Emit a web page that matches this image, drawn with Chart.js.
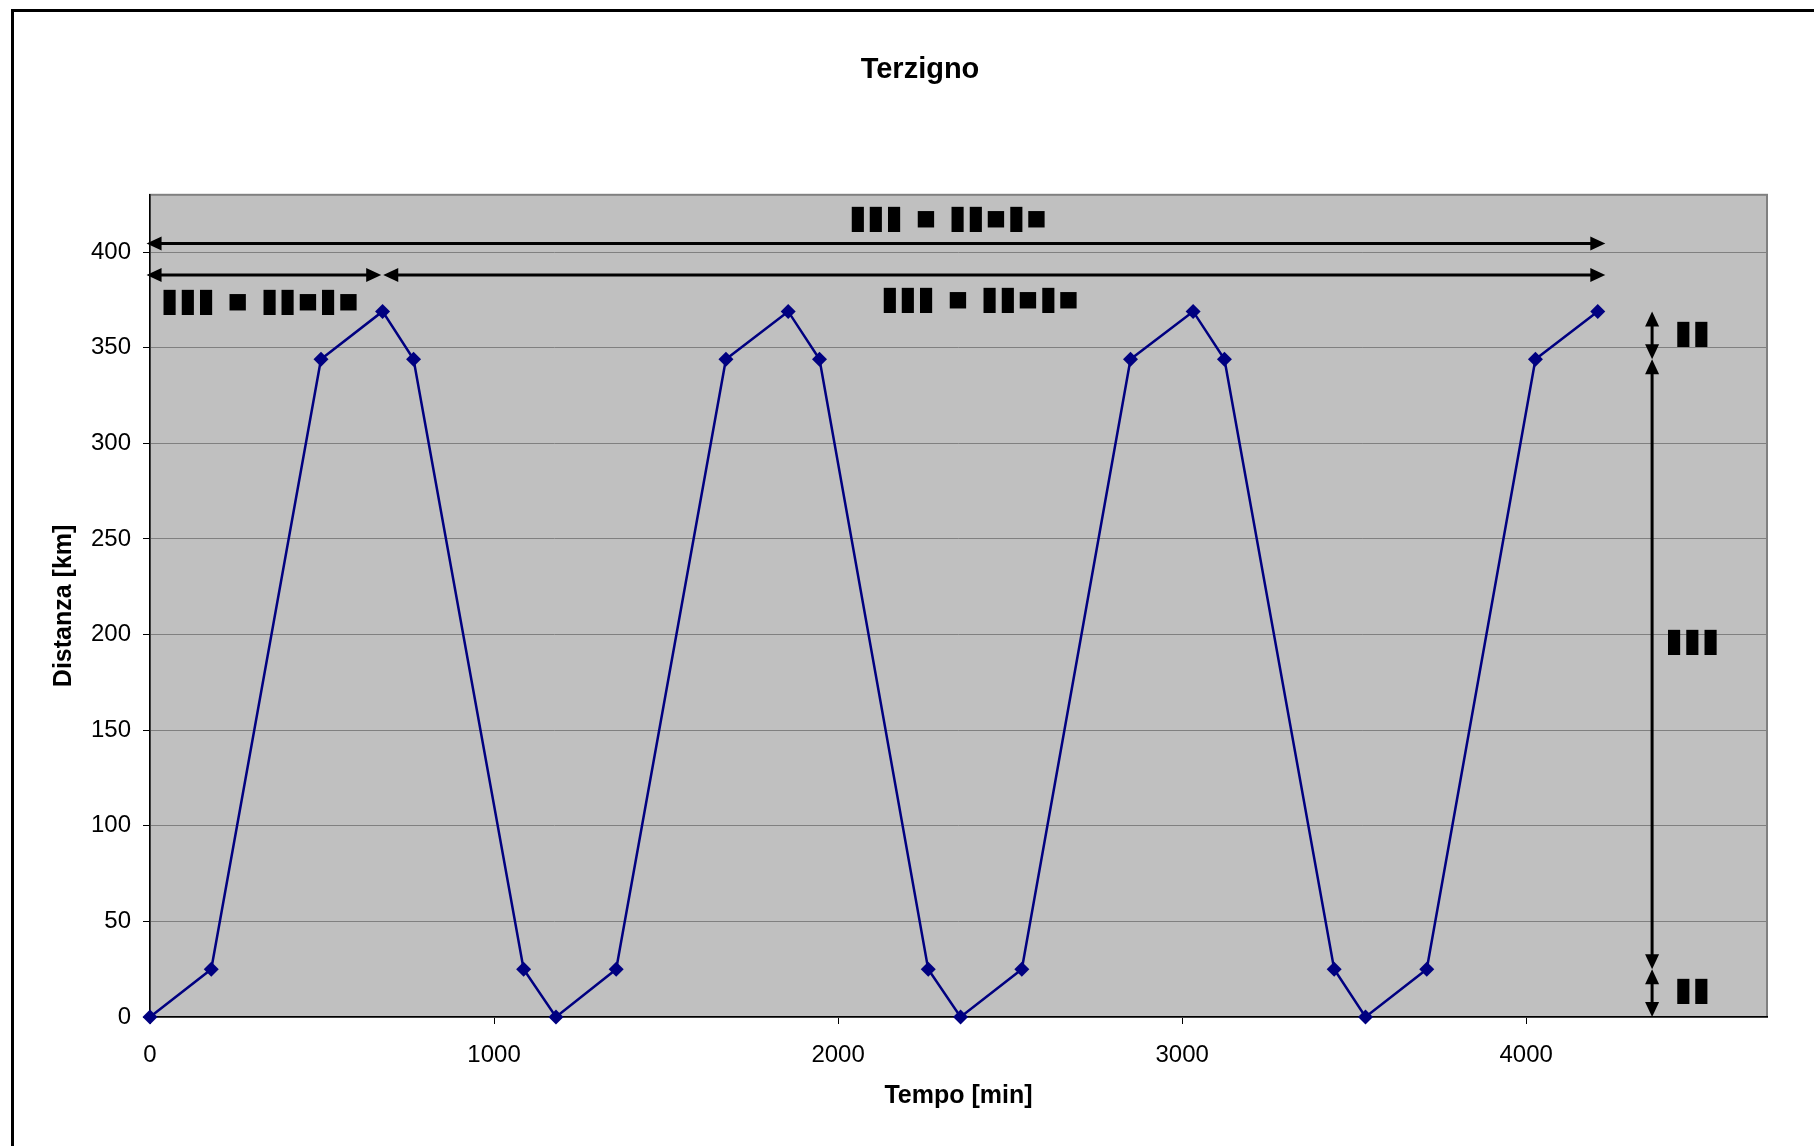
<!DOCTYPE html>
<html>
<head>
<meta charset="utf-8">
<script src="https://cdn.jsdelivr.net/npm/chart.js@4.4.1/dist/chart.umd.min.js"></script>
<style>
  html, body { margin: 0; padding: 0; background: #fff; overflow: hidden; }
  #wrap { position: absolute; left: 0; top: 0; width: 1814px; height: 1146px; }
  #frame { position: absolute; left: 11px; top: 9px; width: 2000px; height: 2000px;
           border-left: 3px solid #000; border-top: 3px solid #000; pointer-events: none; }
</style>
</head>
<body>
<div id="wrap"><canvas id="chart" width="1814" height="1146"></canvas></div>
<div id="frame"></div>
<script>
// series
const timeMin = [0, 178, 497, 676, 766, 1086, 1180, 1355, 1674, 1855, 1946, 2262, 2356,
                 2534, 2850, 3032, 3123, 3442, 3533, 3711, 4027, 4208];
const distKm  = [0, 25, 344, 369, 344, 25, 0, 25, 344, 369, 344, 25, 0,
                 25, 344, 369, 344, 25, 0, 25, 344, 369];

const xTicks = [0, 1000, 2000, 3000, 4000];
const yTicks = [0, 50, 100, 150, 200, 250, 300, 350, 400];

// dimension arrows (data coords)
const hArrowY  = [404.5, 388, 388];
const hArrowX0 = [-10, -10, 678];
const hArrowX1 = [4230, 672, 4230];
const vArrowX  = 4366;
const vArrowY0 = [369, 344, 25];
const vArrowY1 = [344, 25, 0];

// labels of the arrows (font was missing in the original, shown as blocks)
const noteText = ['▮▮▮ ▪ ▮▮▪▮▪', '▮▮▮ ▪ ▮▮▪▮▪', '▮▮▮ ▪ ▮▮▪▮▪', '▮▮', '▮▮▮', '▮▮'];
const noteX    = [2320, 320, 2413, 4483, 4483, 4483];
const noteY    = [417, 373.5, 374.7, 357, 196, 13.4];

const plotBackground = {
  id: 'plotBackground',
  beforeDraw(chart) {
    const {ctx, chartArea: a} = chart;
    ctx.save();
    ctx.fillStyle = '#c0c0c0';
    ctx.fillRect(a.left, a.top, a.right - a.left, a.bottom - a.top);
    ctx.strokeStyle = '#808080';
    ctx.lineWidth = 2;
    ctx.strokeRect(a.left, a.top, a.right - a.left, a.bottom - a.top);
    ctx.restore();
  }
};

function arrowHead(ctx, x, y, dx, dy) {
  const len = 15, half = 7;
  ctx.beginPath();
  ctx.moveTo(x, y);
  ctx.lineTo(x - dx * len - dy * half, y - dy * len + dx * half);
  ctx.lineTo(x - dx * len + dy * half, y - dy * len - dx * half);
  ctx.closePath();
  ctx.fill();
}

const dimArrows = {
  id: 'dimArrows',
  afterDatasetsDraw(chart) {
    const {ctx, scales: {x, y}} = chart;
    ctx.save();
    ctx.strokeStyle = '#000';
    ctx.fillStyle = '#000';
    ctx.lineWidth = 3;

    hArrowY.forEach((v, i) => {
      const py = y.getPixelForValue(v);
      const a = x.getPixelForValue(hArrowX0[i]);
      const b = x.getPixelForValue(hArrowX1[i]);
      ctx.beginPath();
      ctx.moveTo(a + 8, py);
      ctx.lineTo(b - 8, py);
      ctx.stroke();
      arrowHead(ctx, a, py, -1, 0);
      arrowHead(ctx, b, py, 1, 0);
    });

    const px = x.getPixelForValue(vArrowX);
    vArrowY0.forEach((v, i) => {
      const a = y.getPixelForValue(v);
      const b = y.getPixelForValue(vArrowY1[i]);
      ctx.beginPath();
      ctx.moveTo(px, a + 8);
      ctx.lineTo(px, b - 8);
      ctx.stroke();
      arrowHead(ctx, px, a, 0, -1);
      arrowHead(ctx, px, b, 0, 1);
    });

    ctx.font = 'bold 33px "DejaVu Sans"';
    ctx.textAlign = 'center';
    ctx.textBaseline = 'middle';
    noteText.forEach((t, i) => {
      ctx.fillText(t, x.getPixelForValue(noteX[i]), y.getPixelForValue(noteY[i]));
    });
    ctx.restore();
  }
};

const tickFont = {family: 'Liberation Sans', size: 24};
const titleFont = {family: 'Liberation Sans', size: 25, weight: 'bold'};

new Chart(document.getElementById('chart'), {
  type: 'scatter',
  data: {
    datasets: [{
      data: timeMin.map((t, i) => ({x: t, y: distKm[i]})),
      showLine: true,
      borderColor: '#000080',
      backgroundColor: '#000080',
      borderWidth: 2.5,
      pointStyle: 'rectRot',
      pointRadius: 7.5,
      pointBorderWidth: 0,
      clip: false
    }]
  },
  options: {
    responsive: false,
    animation: false,
    layout: {padding: {left: 45, right: 19, top: 0, bottom: 31}},
    plugins: {
      legend: {display: false},
      tooltip: {enabled: false},
      title: {
        display: true,
        text: 'Terzigno',
        color: '#000',
        font: {family: 'Liberation Sans', size: 29, weight: 'bold'},
        padding: {top: 53, bottom: 107}
      }
    },
    scales: {
      x: {
        type: 'linear',
        position: 'bottom',
        min: 0,
        max: 4700,
        afterBuildTicks: (axis) => { axis.ticks = xTicks.map(v => ({value: v})); },
        afterFit: (axis) => { axis.height = 98; },
        ticks: {font: tickFont, color: '#000', padding: 17, maxRotation: 0, callback: (v) => String(v)},
        grid: {drawOnChartArea: false, tickLength: 7, tickColor: '#000'},
        border: {color: '#000', width: 1.5},
        title: {display: true, text: 'Tempo [min]', color: '#000', font: titleFont, padding: {top: 4, bottom: 4}}
      },
      y: {
        type: 'linear',
        position: 'left',
        min: 0,
        max: 430,
        afterBuildTicks: (axis) => { axis.ticks = yTicks.map(v => ({value: v})); },
        afterFit: (axis) => { axis.width = 105; },
        ticks: {font: tickFont, color: '#000', padding: 12, callback: (v) => String(v)},
        grid: {color: '#808080', lineWidth: 1, tickLength: 7, tickColor: '#000'},
        border: {color: '#000', width: 1.5},
        title: {display: true, text: 'Distanza [km]', color: '#000', font: titleFont, padding: {top: 4, bottom: 4}}
      },
      yR: {
        type: 'linear',
        position: 'right',
        min: 0,
        max: 1,
        afterFit: (axis) => { axis.width = 28; },
        ticks: {display: false},
        grid: {display: false},
        border: {display: false}
      }
    }
  },
  plugins: [plotBackground, dimArrows]
});
</script>
</body>
</html>
